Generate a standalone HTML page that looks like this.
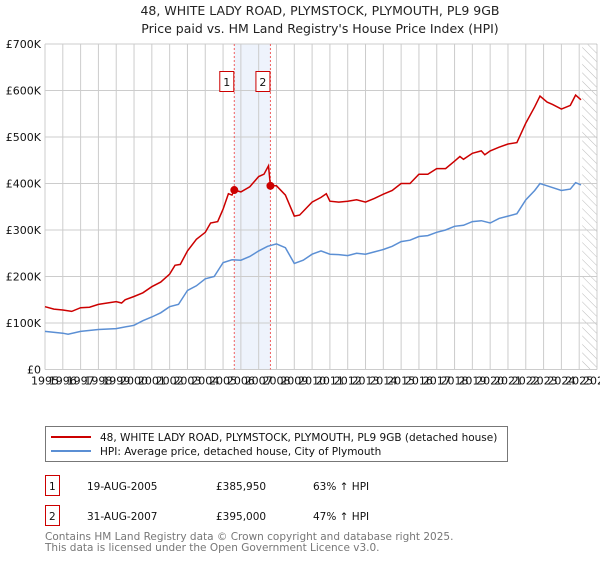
<!DOCTYPE html>
<html><head><meta charset="utf-8"><style>
body{margin:0;background:#fff;width:600px;height:560px;overflow:hidden;font-family:"DejaVu Sans","Liberation Sans",sans-serif}
svg text{font-family:"DejaVu Sans","Liberation Sans",sans-serif}
</style></head><body>
<svg id="c" width="600" height="560" xmlns="http://www.w3.org/2000/svg">
<defs><pattern id="hatch" width="6" height="6" patternUnits="userSpaceOnUse" patternTransform="rotate(-45)"><line x1="0" y1="0" x2="0" y2="6" stroke="#bbb" stroke-width="1"/></pattern></defs>
<text x="320" y="15" text-anchor="middle" font-size="12.5" fill="#222">48, WHITE LADY ROAD, PLYMSTOCK, PLYMOUTH, PL9 9GB</text>
<text x="320" y="33" text-anchor="middle" font-size="12.5" fill="#222">Price paid vs. HM Land Registry's House Price Index (HPI)</text>
<g id="grid"></g><g id="marks"></g><g id="axes"></g>
<g>
<rect x="45.5" y="426.5" width="462" height="35" fill="#fff" stroke="#777"/>
<line x1="51" y1="437" x2="91" y2="437" stroke="#cc0000" stroke-width="2"/>
<text x="100" y="441" font-size="10.5" fill="#111">48, WHITE LADY ROAD, PLYMSTOCK, PLYMOUTH, PL9 9GB (detached house)</text>
<line x1="51" y1="451" x2="91" y2="451" stroke="#5b8fd4" stroke-width="2"/>
<text x="100" y="455" font-size="10.5" fill="#111">HPI: Average price, detached house, City of Plymouth</text>
</g>
<g font-size="10.5" fill="#111">
<rect x="45.5" y="475.5" width="14" height="20" fill="#fff" stroke="#cc0000"/><text x="49" y="490">1</text>
<text x="87" y="490">19-AUG-2005</text><text x="216" y="490">£385,950</text><text x="313" y="490">63% ↑ HPI</text>
<rect x="45.5" y="505.5" width="14" height="20" fill="#fff" stroke="#cc0000"/><text x="49" y="520">2</text>
<text x="87" y="520">31-AUG-2007</text><text x="216" y="520">£395,000</text><text x="313" y="520">47% ↑ HPI</text>
</g>
<text x="45" y="540" font-size="10.5" fill="#777">Contains HM Land Registry data © Crown copyright and database right 2025.</text>
<text x="45" y="551" font-size="10.5" fill="#777">This data is licensed under the Open Government Licence v3.0.</text>
</svg>
<script>
const yTicks=[0,100,200,300,400,500,600,700];
const yTickLabels=["£0","£100K","£200K","£300K","£400K","£500K","£600K","£700K"];
const xYears=[1995,1996,1997,1998,1999,2000,2001,2002,2003,2004,2005,2006,2007,2008,2009,2010,2011,2012,2013,2014,2015,2016,2017,2018,2019,2020,2021,2022,2023,2024,2025,2026];
const propT=[1995,1995.5,1996,1996.5,1997,1997.5,1998,1998.5,1999,1999.3,1999.5,2000,2000.5,2001,2001.5,2002,2002.3,2002.6,2003,2003.5,2004,2004.3,2004.7,2005,2005.3,2005.5,2005.63,2006,2006.5,2007,2007.3,2007.55,2007.66,2008,2008.5,2009,2009.3,2010,2010.5,2010.8,2011,2011.5,2012,2012.5,2013,2013.5,2014,2014.5,2015,2015.5,2016,2016.5,2017,2017.5,2018,2018.3,2018.5,2019,2019.5,2019.7,2020,2020.5,2021,2021.5,2022,2022.5,2022.8,2023.2,2023.5,2024,2024.5,2024.8,2025.1];
const propV=[135,130,128,125,133,134,140,143,146,143,150,157,165,178,188,205,224,226,255,280,295,315,318,345,378,375,386,382,393,415,420,438,395,395,375,330,332,360,370,378,362,360,362,365,360,368,377,385,400,400,420,420,432,432,448,458,452,465,470,462,470,478,485,488,530,565,588,575,570,560,568,590,580];
const hpiT=[1995,1996,1996.3,1997,1998,1999,2000,2000.5,2001,2001.5,2002,2002.5,2003,2003.5,2004,2004.5,2005,2005.5,2006,2006.5,2007,2007.5,2008,2008.5,2009,2009.5,2010,2010.5,2011,2011.5,2012,2012.5,2013,2013.5,2014,2014.5,2015,2015.5,2016,2016.5,2017,2017.5,2018,2018.5,2019,2019.5,2020,2020.5,2021,2021.5,2022,2022.5,2022.8,2023.2,2024,2024.5,2024.8,2025.1];
const hpiV=[82,78,76,82,86,88,95,105,113,122,135,140,170,180,195,200,230,236,235,243,255,265,270,262,228,235,248,255,248,247,245,250,248,253,258,265,275,278,286,288,295,300,308,310,318,320,315,325,330,335,365,385,400,395,385,388,402,397];
const saleT=[2005.63,2007.66];
const saleV=[385.95,395];
const saleLabels=["1","2"];
const X0=45,X1=597,Y0=369.5,Y1=44;
const xs=t=>X0+(t-1995)*(X1-X0)/31;
const ys=v=>Y0-v*(Y0-Y1)/700;
const NS="http://www.w3.org/2000/svg";
function mk(p,tag,a){const e=document.createElementNS(NS,tag);for(const k in a)e.setAttribute(k,a[k]);p.appendChild(e);return e;}
const grid=document.getElementById('grid'),marks=document.getElementById('marks'),axes=document.getElementById('axes');
mk(grid,'rect',{x:xs(saleT[0]),y:Y1,width:xs(saleT[1])-xs(saleT[0]),height:Y0-Y1,fill:'#eef3fc'});
const hb=mk(grid,'rect',{x:xs(2025.17),y:Y1,width:X1-xs(2025.17),height:Y0-Y1,fill:'url(#hatch)'});


xYears.forEach(y=>{mk(grid,'line',{x1:xs(y),x2:xs(y),y1:Y1,y2:Y0,stroke:'#ccc','stroke-width':1});
 const t=mk(axes,'text',{x:xs(y),y:Y0+15,'font-size':11,fill:'#111','text-anchor':'middle'});t.textContent=y;
 
 });
yTicks.forEach((v,i)=>{mk(grid,'line',{x1:X0,x2:X1,y1:ys(v),y2:ys(v),stroke:'#ccc','stroke-width':1});
 const t=mk(axes,'text',{x:X0-4,y:ys(v)+4,'font-size':11,fill:'#111','text-anchor':'end'});t.textContent=yTickLabels[i];
 
 });
saleT.forEach((s,i)=>{mk(grid,'line',{x1:xs(s),x2:xs(s),y1:Y1,y2:Y0,stroke:'#f06060','stroke-dasharray':'2,2','stroke-width':1});});
function path(T,V){return T.map((t,i)=>(i?'L':'M')+xs(t).toFixed(1)+','+ys(V[i]).toFixed(1)).join('');}
const hl=mk(marks,'path',{d:path(hpiT,hpiV),fill:'none',stroke:'#5b8fd4','stroke-width':1.5});


const pl=mk(marks,'path',{d:path(propT,propV),fill:'none',stroke:'#cc0000','stroke-width':1.5});


saleT.forEach((s,i)=>{
 const c=mk(marks,'circle',{cx:xs(s),cy:ys(saleV[i]),r:4,fill:'#cc0000'});
 
 
 const b=mk(marks,'rect',{x:xs(s)-14.5,y:71.5,width:14,height:20,fill:'#fff',stroke:'#cc0000'});
 
 
 const t=mk(marks,'text',{x:xs(s)-7.5,y:86,'font-size':11,fill:'#111','text-anchor':'middle'});t.textContent=saleLabels[i];
 
 
});
</script>
</body></html>
